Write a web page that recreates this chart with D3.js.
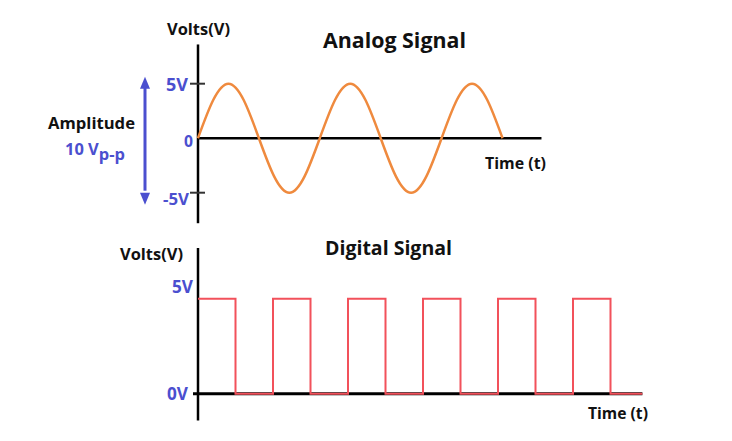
<!DOCTYPE html>
<html><head><meta charset="utf-8">
<script src="https://cdn.jsdelivr.net/npm/d3@7"></script>
<style>body{margin:0;background:#fff}svg{display:block}text{font-family:"Open Sans",Lato,sans-serif;font-weight:bold}</style>
</head><body><svg id="c" width="732" height="441"></svg>
<script>
// ---- Data ----
// Analog: samples every 1/8 cycle (volts), 2.5 cycles
const analogT = [0,0.125,0.25,0.375,0.5,0.625,0.75,0.875,1,1.125,1.25,1.375,1.5,1.625,1.75,1.875,2,2.125,2.25,2.375,2.5];
const analogV = [0,3.5,5,3.5,0,-3.5,-5,-3.5,0,3.5,5,3.5,0,-3.5,-5,-3.5,0,3.5,5,3.5,0];
const analogTicks = [5,0,-5];
const analogTickLabels = ["5V","0","-5V"];
// Digital: level changes (time in half-periods, volts)
const digitalT = [0,1,2,3,4,5,6,7,8,9,10,11,11.85];
const digitalV = [5,0,5,0,5,0,5,0,5,0,5,0,0];
const digitalTicks = [5,0];
const digitalTickLabels = ["5V","0V"];

const svg = d3.select("#c");
const BLUE = "#4b4fcf", ORANGE = "#ef8a3e", RED = "#f2515b";

// text helper: fits a label to a target width, left edge x0
function label(g, txt, x0, x1, y, color) {
  const t = g.append("text").attr("x", x0).attr("y", y).attr("fill", color || "#111").attr("font-size", 16).text(txt);
  const w = t.node().getComputedTextLength();
  t.attr("font-size", 16 * (x1 - x0) / w);
  return t;
}

// ---- Analog chart ----
const xa = d3.scaleLinear().domain([0,2.5]).range([198,502.5]);
const ya = d3.scaleLinear().domain([-5,5]).range([192.7,83.7]);
const ga = svg.append("g");
ga.append("line").attr("x1",xa(0)).attr("x2",xa(0)).attr("y1",ya(8.6)).attr("y2",ya(-7.8)).attr("stroke","#000").attr("stroke-width",2.5);
ga.append("line").attr("x1",xa(0)).attr("x2",xa(2.82)).attr("y1",ya(0)).attr("y2",ya(0)).attr("stroke","#000").attr("stroke-width",2.5);
ga.selectAll(".at").data(analogTicks.filter(d=>d!==0)).enter().append("line")
  .attr("x1",190).attr("x2",205).attr("y1",d=>ya(d)).attr("y2",d=>ya(d)).attr("stroke","#333").attr("stroke-width",2);
// tick labels: [left,right,baseline]
const aPos = [[166,188,ya(5)+7.5],[184,193,ya(0)+8.5],[163,189,ya(-5)+12]];
analogTicks.forEach((d,i)=>label(ga, analogTickLabels[i], aPos[i][0], aPos[i][1], aPos[i][2], BLUE));
// sine
const line = d3.line().x(d=>xa(d[0])).y(d=>ya(d[1])).curve(d3.curveNatural);
ga.append("path").datum(analogT.map((t,i)=>[t,analogV[i]])).attr("d",line)
  .attr("fill","none").attr("stroke",ORANGE).attr("stroke-width",2.5);
label(ga, "Volts(V)", 167, 230, 35);
label(ga, "Analog Signal", 323, 466, 48);
label(ga, "Time (t)", 485, 546, 169);
label(ga, "Amplitude", 48, 135, 129);
const amp = ga.append("text").attr("x",65).attr("y",155).attr("fill",BLUE).attr("font-size",16);
amp.append("tspan").text("10 V");
amp.append("tspan").attr("dy",5).text("p-p");
{ const w = amp.node().getBBox().width; const fs = 16*(125-65)/w; amp.attr("font-size",fs); amp.select("tspan:nth-child(2)").attr("dy",fs*0.33); }
// amplitude arrow
const ax = 145;
ga.append("line").attr("x1",ax).attr("x2",ax).attr("y1",ya(5)+2).attr("y2",ya(-5)-2).attr("stroke",BLUE).attr("stroke-width",3);
ga.append("path").attr("d",`M${ax},${ya(5)-7} L${ax-5},${ya(5)+5} L${ax+5},${ya(5)+5}Z`).attr("fill",BLUE);
ga.append("path").attr("d",`M${ax},${ya(-5)+12} L${ax-5},${ya(-5)} L${ax+5},${ya(-5)}Z`).attr("fill",BLUE);

// ---- Digital chart ----
const xd = d3.scaleLinear().domain([0,12]).range([198,648]);
const yd = d3.scaleLinear().domain([0,5]).range([393.7,298.7]);
const gd = svg.append("g");
gd.append("line").attr("x1",xd(0)).attr("x2",xd(0)).attr("y1",248).attr("y2",420.5).attr("stroke","#000").attr("stroke-width",2.5);
gd.append("line").attr("x1",193).attr("x2",xd(11.85)).attr("y1",yd(0)).attr("y2",yd(0)).attr("stroke","#000").attr("stroke-width",3);
const dPos = [[172,193,yd(5)-6],[167,188,yd(0)+6]];
digitalTicks.forEach((d,i)=>label(gd, digitalTickLabels[i], dPos[i][0], dPos[i][1], dPos[i][2], BLUE));
const sq = d3.line().x(d=>xd(d[0])).y(d=>yd(d[1])).curve(d3.curveStepAfter);
gd.append("path").datum(digitalT.map((t,i)=>[t,digitalV[i]])).attr("d",sq)
  .attr("fill","none").attr("stroke",RED).attr("stroke-width",2);
label(gd, "Volts(V)", 120, 183, 260);
label(gd, "Digital Signal", 325, 452, 255);
label(gd, "Time (t)", 588, 648, 419);
</script></body></html>
